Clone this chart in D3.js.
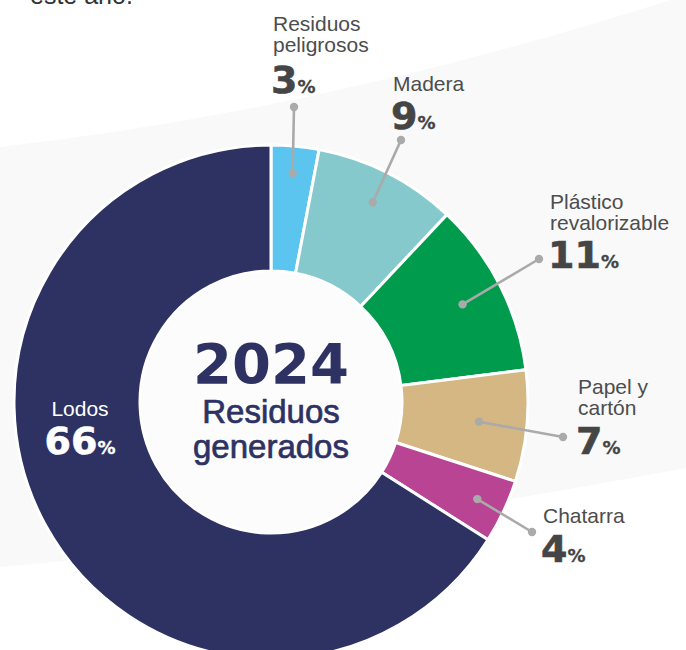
<!DOCTYPE html>
<html>
<head>
<meta charset="utf-8">
<script src="https://cdn.jsdelivr.net/npm/d3@7"></script>
<style>
  html, body { margin: 0; padding: 0; background: #ffffff; }
  svg { display: block; }
  .name { font-family: "Liberation Sans", Arial, sans-serif; font-size: 21px; fill: #4d4d4d; }
  .num { font-family: "DejaVu Sans", sans-serif; font-weight: bold; font-size: 38px; fill: #454545; stroke: #454545; stroke-width: 0.6px; }
  .pct { font-size: 18px; stroke-width: 0.3px; }
</style>
</head>
<body>
<div id="chart"></div>
<script>
// Data
const categories = ['Residuos peligrosos', 'Madera', 'Plástico revalorizable', 'Papel y cartón', 'Chatarra', 'Lodos'];
const values = [3, 9, 11, 7, 4, 66];
const colors = ['#5bc5ef', '#86c9cc', '#009b4c', '#d5b784', '#b94494', '#2d3263'];
const nameLines = [['Residuos', 'peligrosos'], ['Madera'], ['Plástico', 'revalorizable'], ['Papel y', 'cartón'], ['Chatarra'], ['Lodos']];
const centerTitle = '2024';
const centerLines = ['Residuos', 'generados'];

// Layout of the outside labels (x, first line baseline, number baseline, outer dot, inner dot radius)
const labelLayout = [
    { x: 273, y: 31, ny: 93, dot: [294, 107], r: 230 },
    { x: 393, y: 91, ny: 129, dot: [401, 140], r: 224 },
    { x: 550, y: 209, ny: 268, dot: [539, 259], r: 215 },
    { x: 578, y: 394, ny: 454, dot: [563, 437], r: 209 },
    { x: 543, y: 523, ny: 562, dot: [532, 532], r: 228 }
];

const width = 686, height = 650;
const cx = 271, cy = 402;
const outerR = 257, innerR = 131;

const svg = d3.select('#chart')
    .append('svg')
    .attr('width', width)
    .attr('height', height);

// faint background band
svg.append('path')
    .attr('d', 'M0,147 Q330,110 686,-5 L686,468 Q300,540 0,567 Z')
    .attr('fill', '#f9f9f9');

// cut-off sentence at the top
svg.append('text')
    .attr('x', 30)
    .attr('y', 4)
    .style('font-family', '"Liberation Sans", Arial, sans-serif')
    .style('font-size', '25px')
    .attr('fill', '#333')
    .text('este año.');

const pie = d3.pie().sort(null).value(d => d);
const arcs = pie(values);
const arc = d3.arc().innerRadius(innerR).outerRadius(outerR);

const g = svg.append('g').attr('transform', `translate(${cx},${cy})`);

g.selectAll('path.slice')
    .data(arcs)
    .enter()
    .append('path')
    .attr('class', 'slice')
    .attr('d', arc)
    .attr('fill', (d, i) => colors[i])
    .attr('stroke', '#ffffff')
    .attr('stroke-width', 3);

// inner white disc
g.append('circle').attr('r', innerR - 1).attr('fill', '#fcfcfc');

// center text
g.append('text')
    .attr('text-anchor', 'middle')
    .attr('y', -19)
    .style('font-family', '"DejaVu Sans", sans-serif')
    .style('font-weight', 'bold')
    .style('font-size', '56px')
    .attr('fill', '#2d3263')
    .text(centerTitle);

centerLines.forEach((t, i) => {
    g.append('text')
        .attr('text-anchor', 'middle')
        .attr('y', 21 + i * 35)
        .style('font-family', '"Liberation Sans", Arial, sans-serif')
        .style('font-size', '33px')
        .attr('fill', '#2d3263')
        .attr('stroke', '#2d3263')
        .attr('stroke-width', 0.7)
        .text(t);
});

// leaders and labels for the small slices
labelLayout.forEach((lay, i) => {
    const a = arcs[i];
    const mid = (a.startAngle + a.endAngle) / 2;
    const ix = cx + lay.r * Math.sin(mid);
    const iy = cy - lay.r * Math.cos(mid);

    svg.append('line')
        .attr('x1', ix).attr('y1', iy)
        .attr('x2', lay.dot[0]).attr('y2', lay.dot[1])
        .attr('stroke', '#aaaaaa')
        .attr('stroke-width', 2.6);
    svg.append('circle').attr('cx', ix).attr('cy', iy).attr('r', 4.2).attr('fill', '#aaaaaa');
    svg.append('circle').attr('cx', lay.dot[0]).attr('cy', lay.dot[1]).attr('r', 4.2).attr('fill', '#aaaaaa');

    nameLines[i].forEach((t, j) => {
        svg.append('text')
            .attr('class', 'name')
            .attr('x', lay.x)
            .attr('y', lay.y + j * 21)
            .text(t);
    });

    const num = svg.append('text')
        .attr('class', 'num')
        .attr('x', lay.x - 2)
        .attr('y', lay.ny);
    num.append('tspan').text(values[i]);
    num.append('tspan').attr('class', 'pct').attr('dx', 0).text('%');
});

// Lodos label inside the big slice
const lodos = values.length - 1;
svg.append('text')
    .attr('class', 'name')
    .attr('x', 80)
    .attr('y', 416)
    .attr('text-anchor', 'middle')
    .style('fill', '#ffffff')
    .text(nameLines[lodos][0]);

const lodosNum = svg.append('text')
    .attr('class', 'num')
    .attr('x', 80)
    .attr('y', 454)
    .attr('text-anchor', 'middle')
    .style('fill', '#ffffff')
    .style('stroke', '#ffffff');
lodosNum.append('tspan').text(values[lodos]);
lodosNum.append('tspan').attr('class', 'pct').attr('dx', 0).text('%');
</script>
</body>
</html>
